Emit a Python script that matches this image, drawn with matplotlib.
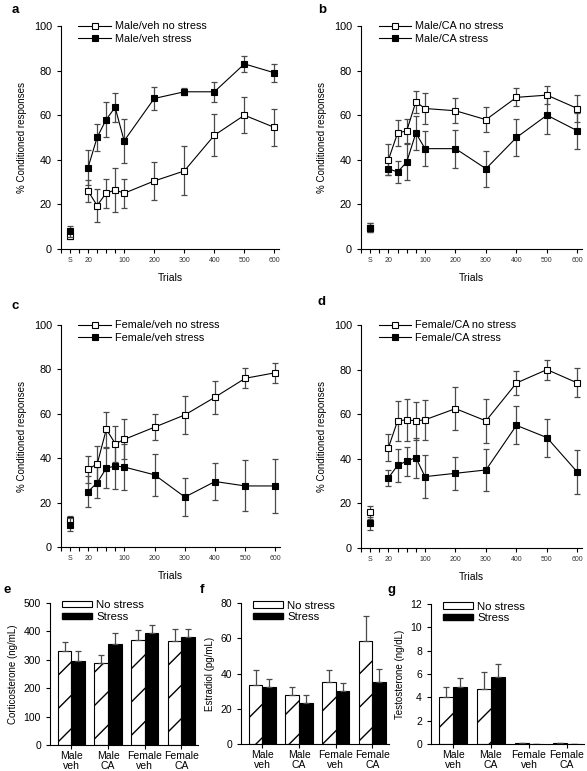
import numpy as np
import matplotlib.pyplot as plt
from matplotlib.patches import Patch

plt.rcParams['font.family'] = ['Liberation Sans', 'DejaVu Sans']

# acquisition curves (% conditioned responses), trials 20..600
trials = [20, 40, 60, 80, 100, 200, 300, 400, 500, 600]
S_TRIAL = -20  # baseline session "S", drawn left of 20

male_veh_ns = [26, 19.5, 25, 26.5, 25, 30.5, 35, 51, 60, 54.5]
male_veh_ns_err = [5, 7.5, 6.5, 10, 6.5, 8.5, 11, 9.5, 8, 8.5]
male_veh_st = [36.5, 50, 58, 63.5, 48.5, 67.5, 70.5, 70.5, 83, 79]
male_veh_st_err = [8, 6, 8, 6.5, 10, 5, 1.5, 4.5, 3.5, 4]

male_ca_ns = [40, 52, 53, 66, 63, 62, 58, 68, 69, 63]
male_ca_ns_err = [7, 6, 5.5, 5, 7, 5.5, 5.5, 4, 4, 6]
male_ca_st = [36, 34.5, 39, 52, 45, 45, 36, 50, 60, 53]
male_ca_st_err = [3, 5, 8, 7.5, 8, 8.5, 8, 8.5, 8.5, 8]

female_veh_ns = [35, 37.5, 53, 46.5, 48.5, 54, 59.5, 67.5, 76, 78.5]
female_veh_ns_err = [6, 8, 8, 8, 9, 6, 8.5, 7.5, 4.5, 4.5]
female_veh_st = [25, 29, 35.5, 36.5, 36, 32.5, 22.5, 29.5, 27.5, 27.5]
female_veh_st_err = [7, 7, 9, 10.5, 10.5, 9.5, 8.5, 8.5, 11.5, 12]

female_ca_ns = [45, 57, 57.5, 57, 57.5, 62.5, 57, 74, 80, 74]
female_ca_ns_err = [6, 9, 9.5, 8.5, 9, 9.5, 10, 5.5, 4.5, 6.5]
female_ca_st = [31.5, 37, 39, 40.5, 32, 33.5, 35, 55, 49.5, 34]
female_ca_st_err = [3.5, 7.5, 6.5, 9, 9.5, 7.5, 9.5, 8.5, 8.5, 10]

# baseline "S" values per panel a, b, c, d
base_ns = [6, 9.5, 12, 16]
base_ns_err = [1.5, 2, 2, 3]
base_st = [8, 9.5, 10, 11]
base_st_err = [2.5, 2, 3, 3]

# hormone levels
groups = ['Male\nveh', 'Male\nCA', 'Female\nveh', 'Female\nCA']
cort_ns = [330, 288, 369, 365]
cort_ns_err = [32, 28, 36, 43]
cort_st = [297, 355, 394, 380]
cort_st_err = [33, 39, 30, 28]
estr_ns = [33.6, 27.9, 34.9, 58.4]
estr_ns_err = [8.4, 4.3, 7.1, 14]
estr_st = [32.6, 23.1, 29.8, 34.9]
estr_st_err = [4.4, 4.8, 4.7, 7.6]
test_ns = [4.0, 4.74, 0.05, 0.08]
test_ns_err = [0.86, 1.4, 0, 0]
test_st = [4.86, 5.77, 0.04, 0.04]
test_st_err = [0.83, 1.06, 0, 0]

W, H = 587, 771
fig = plt.figure(figsize=(W / 100, H / 100), dpi=100)


def add_axes_px(l, t, r, b):
    return fig.add_axes([l / W, 1 - b / H, (r - l) / W, (b - t) / H])


# trials 20-100 are stretched relative to 100-600
def fwd(x):
    return np.interp(x, [-60, 100, 700], [-1.2, 1.2, 7.2])


def inv(y):
    return np.interp(y, [-1.2, 1.2, 7.2], [-60, 100, 700])


ERR = '#4a4a4a'


def learning_panel(ax, ns, ns_err, st, st_err, i, name):
    ax.set_xscale('function', functions=(fwd, inv))
    for y, e, bs, be, face in [(ns, ns_err, base_ns[i], base_ns_err[i], 'white'),
                               (st, st_err, base_st[i], base_st_err[i], 'black')]:
        ax.errorbar(trials, y, yerr=e, fmt='none', ecolor=ERR, elinewidth=0.9,
                    capsize=2.5, capthick=0.9)
        ax.errorbar([S_TRIAL], [bs], yerr=[be], fmt='none', ecolor=ERR,
                    elinewidth=0.9, capsize=2.5, capthick=0.9)
        ax.plot([S_TRIAL], [bs], 's', ms=5, mfc=face, mec='black', mew=0.8)
    l1, = ax.plot(trials, ns, 's-', color='black', lw=0.8, ms=5, mfc='white',
                  mec='black', mew=0.8)
    l2, = ax.plot(trials, st, 's-', color='black', lw=0.8, ms=5, mfc='black',
                  mec='black', mew=0.8)
    ax.legend([l1, l2], [name + ' no stress', name + ' stress'], loc='upper left',
              bbox_to_anchor=(0.06, 1.04), frameon=False, fontsize=7.8,
              handlelength=3.0, handletextpad=0.4, labelspacing=0.2,
              borderaxespad=0, numpoints=1)
    ax.set_xlim(-40, 615)
    ax.set_ylim(0, 100)
    xt = [-40, S_TRIAL, 0, 20, 40, 60, 80, 100, 200, 300, 400, 500, 600]
    xl = ['', 'S', '', '20', '', '', '', '100', '200', '300', '400', '500', '600']
    ax.set_xticks(xt)
    ax.set_xticklabels(xl, fontsize=5, color='#333333')
    ax.set_yticks(range(0, 101, 20))
    ax.tick_params(axis='y', labelsize=7.8, length=3, width=0.8)
    ax.tick_params(axis='x', length=3, width=0.8, pad=3)
    ax.set_xlabel('Trials', fontsize=7.5, labelpad=6)
    ax.set_ylabel('% Conditioned responses', fontsize=7, labelpad=5)
    for s in ['top', 'right']:
        ax.spines[s].set_visible(False)
    for s in ['left', 'bottom']:
        ax.spines[s].set_linewidth(0.8)


def hormone_panel(ax, ns, ns_err, st, st_err, ymax, step, ylabel):
    x = np.arange(len(groups))
    w = 0.37
    ax.bar(x - w / 2, ns, w, facecolor='white', edgecolor='black', hatch='/', lw=0.8)
    ax.bar(x + w / 2, st, w, color='black', edgecolor='black', lw=0.8)
    z = np.zeros(len(groups))
    ax.errorbar(x - w / 2, ns, yerr=[z, ns_err], fmt='none', ecolor=ERR,
                elinewidth=0.9, capsize=2.5, capthick=0.9)
    ax.errorbar(x + w / 2, st, yerr=[z, st_err], fmt='none', ecolor=ERR,
                elinewidth=0.9, capsize=2.5, capthick=0.9)
    handles = [Patch(facecolor='white', edgecolor='black', lw=0.8),
               Patch(facecolor='black', edgecolor='black')]
    ax.legend(handles, ['No stress', 'Stress'], loc='upper left',
              bbox_to_anchor=(0.05, 1.05), frameon=False, fontsize=8.2,
              handlelength=2.6, handleheight=0.45, handletextpad=0.4,
              labelspacing=0.15, borderaxespad=0)
    ax.set_xlim(-0.58, 3.45)
    ax.set_ylim(0, ymax)
    ax.set_yticks(np.arange(0, ymax + step / 2, step))
    ax.set_xticks(x)
    ax.set_xticklabels(groups, fontsize=7.5, linespacing=0.95)
    ax.tick_params(axis='y', labelsize=7.5, length=3, width=0.8)
    ax.tick_params(axis='x', length=3, width=0.8, pad=1.5)
    ax.set_ylabel(ylabel, fontsize=7, labelpad=4)
    for s in ['top', 'right']:
        ax.spines[s].set_visible(False)
    for s in ['left', 'bottom']:
        ax.spines[s].set_linewidth(0.8)


ax_a = add_axes_px(61, 26, 279, 249)
ax_b = add_axes_px(361, 26, 582, 249)
ax_c = add_axes_px(61, 325, 280, 547)
ax_d = add_axes_px(361, 325, 582, 548)
learning_panel(ax_a, male_veh_ns, male_veh_ns_err, male_veh_st, male_veh_st_err, 0, 'Male/veh')
learning_panel(ax_b, male_ca_ns, male_ca_ns_err, male_ca_st, male_ca_st_err, 1, 'Male/CA')
learning_panel(ax_c, female_veh_ns, female_veh_ns_err, female_veh_st, female_veh_st_err, 2, 'Female/veh')
learning_panel(ax_d, female_ca_ns, female_ca_ns_err, female_ca_st, female_ca_st_err, 3, 'Female/CA')

ax_e = add_axes_px(50, 603, 198, 745)
ax_f = add_axes_px(241, 603, 389, 744)
ax_g = add_axes_px(431, 604, 584, 744)
hormone_panel(ax_e, cort_ns, cort_ns_err, cort_st, cort_st_err, 500, 100, 'Corticosterone (ng/mL)')
hormone_panel(ax_f, estr_ns, estr_ns_err, estr_st, estr_st_err, 80, 20, 'Estradiol (pg/mL)')
hormone_panel(ax_g, test_ns, test_ns_err, test_st, test_st_err, 12, 2, 'Testosterone (ng/dL)')

for lab, x, y in [('a', 12, 4), ('b', 318, 4), ('c', 12, 300), ('d', 318, 296),
                  ('e', 3, 584), ('f', 200, 584), ('g', 388, 584)]:
    fig.text(x / W, 1 - y / H, lab, fontsize=9.5, fontweight='bold', va='top')

fig.savefig('out.png', dpi=100)
